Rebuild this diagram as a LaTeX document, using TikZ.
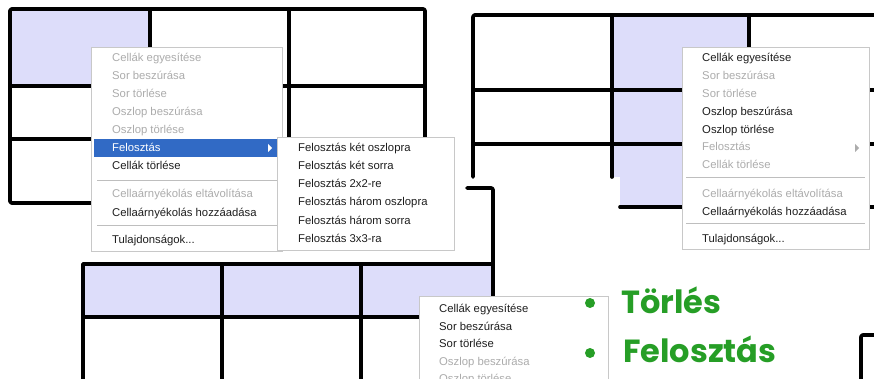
\documentclass[tikz,border=0pt]{standalone}
\usepackage{fontspec}
\setmainfont{Liberation Sans}
\newfontfamily\greenfont{Poppins}
\definecolor{lav}{RGB}{221,221,250}
\definecolor{dis}{RGB}{172,172,172}
\definecolor{txt}{RGB}{30,30,30}
\definecolor{hil}{RGB}{49,106,197}
\definecolor{mborder}{RGB}{200,200,200}
\definecolor{sepc}{RGB}{190,190,190}
\definecolor{grn}{RGB}{38,158,38}
\tikzset{
  tline/.style={line width=3.7pt, black, line cap=round, line join=round},
  menubox/.style={fill=white, draw=mborder, line width=0.8pt},
  item/.style={anchor=base west, inner sep=0pt, font=\fontsize{11.3}{13}\selectfont, text=txt},
  ditem/.style={item, text=dis},
  sepline/.style={draw=sepc, line width=0.8pt},
  big/.style={anchor=base west, inner sep=0pt, text=grn, font=\greenfont\bfseries\fontsize{32}{36}\selectfont},
  dot/.style={circle, fill=grn, minimum size=10pt, inner sep=0pt}
}
\begin{document}
\begin{tikzpicture}[x=1pt,y=-1pt]
\useasboundingbox (0,0) rectangle (874,379);
\fill[white] (0,0) rectangle (874,379);
% ---------- table 1 ----------
\fill[lav] (10,9) rectangle (150,86);
\draw[tline, rounded corners=2pt] (10,9) rectangle (425,203);
\draw[tline] (150,9) -- (150,203) (289,9) -- (289,203);
\draw[tline] (10,86) -- (425,86) (10,139) -- (425,139);
% ---------- table 2 ----------
\fill[lav] (613,15) rectangle (749,177);
\fill[lav] (620,177) rectangle (749,207);
\draw[tline, rounded corners=2pt] (473,177) -- (473,15) -- (880,15);
\draw[tline] (612,15) -- (612,177) (749,15) -- (749,100);
\draw[tline] (473,90) -- (880,90) (473,144) -- (880,144);
\draw[tline] (620,207) -- (880,207);
% ---------- table 3 ----------
\fill[lav] (83,264) rectangle (493,317);
\draw[tline, rounded corners=2pt] (467,188) -- (493,188) -- (493,379);
\draw[tline] (83,390) -- (83,264) -- (493,264);
\draw[tline] (222,264) -- (222,390) (361,264) -- (361,390);
\draw[tline] (83,317) -- (493,317);
% bottom-right corner fragment
\draw[tline, rounded corners=2pt] (861,390) -- (861,335) -- (880,335);
% ---------- menu 1 ----------
\draw[menubox] (91,47) rectangle (282,251);
\fill[hil] (94,139) rectangle (277,157);
\fill[white] (268,144) -- (272,148) -- (268,152) -- cycle;
\node[ditem] (m1a) at (112,62) {Cellák egyesítése};
\node[ditem] (m1b) at (112,80) {Sor beszúrása};
\node[ditem] (m1c) at (112,98) {Sor törlése};
\node[ditem] (m1d) at (112,116) {Oszlop beszúrása};
\node[ditem] (m1e) at (112,134) {Oszlop törlése};
\node[item, text=white] (m1f) at (112,152) {Felosztás};
\node[item] (m1g) at (112,170) {Cellák törlése};
\draw[sepline] (97,180) -- (277,180);
\node[ditem] (m1h) at (112,198) {Cellaárnyékolás eltávolítása};
\node[item] (m1i) at (112,216) {Cellaárnyékolás hozzáadása};
\draw[sepline] (97,225) -- (277,225);
\node[item] (m1j) at (112,243) {Tulajdonságok...};
% ---------- submenu ----------
\draw[menubox] (277,137) rectangle (454,250);
\node[item] (s1) at (298,152) {Felosztás két oszlopra};
\node[item] (s2) at (298,170) {Felosztás két sorra};
\node[item] (s3) at (298,188) {Felosztás 2x2-re};
\node[item] (s4) at (298,206) {Felosztás három oszlopra};
\node[item] (s5) at (298,225) {Felosztás három sorra};
\node[item] (s6) at (298,242) {Felosztás 3x3-ra};
% ---------- menu 2 ----------
\draw[menubox] (682,47) rectangle (869,249);
\node[item] (m2a) at (702,62) {Cellák egyesítése};
\node[ditem] (m2b) at (702,80) {Sor beszúrása};
\node[ditem] (m2c) at (702,98) {Sor törlése};
\node[item] (m2d) at (702,116) {Oszlop beszúrása};
\node[item] (m2e) at (702,134) {Oszlop törlése};
\node[ditem] (m2f) at (702,151) {Felosztás};
\fill[dis] (855,144) -- (859,148) -- (855,152) -- cycle;
\node[ditem] (m2g) at (702,169) {Cellák törlése};
\draw[sepline] (686,177) -- (865,177);
\node[ditem] (m2h) at (702,197) {Cellaárnyékolás eltávolítása};
\node[item] (m2i) at (702,215) {Cellaárnyékolás hozzáadása};
\draw[sepline] (686,223) -- (865,223);
\node[item] (m2j) at (702,242) {Tulajdonságok...};
% ---------- menu 3 ----------
\draw[menubox] (419,296) rectangle (608,390);
\node[item] (m3a) at (439,312) {Cellák egyesítése};
\node[item] (m3b) at (439,330) {Sor beszúrása};
\node[item] (m3c) at (439,347) {Sor törlése};
\node[ditem] (m3d) at (439,365) {Oszlop beszúrása};
\node[ditem] (m3e) at (439,382) {Oszlop törlése};
% ---------- bullets ----------
\node[dot] (b1) at (590,303) {};
\node[dot] (b2) at (590,353) {};
\node[big] (t1) at (621,313) {Törlés};
\node[big] (t2) at (623,362) {Felosztás};
\end{tikzpicture}
\end{document}
